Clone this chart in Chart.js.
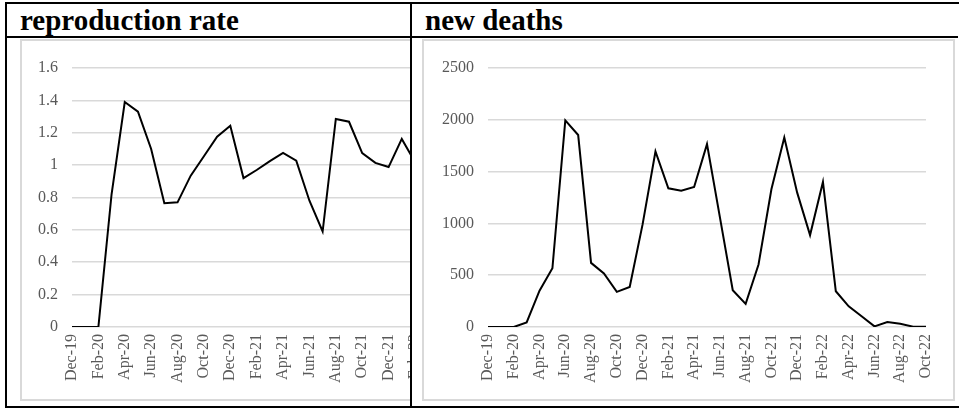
<!DOCTYPE html>
<html>
<head>
<meta charset="utf-8">
<script src="https://cdn.jsdelivr.net/npm/chart.js@4.4.0/dist/chart.umd.min.js"></script>
<style>
  html, body { margin: 0; padding: 0; background: #fff; }
  body { width: 959px; height: 410px; position: relative; overflow: hidden; }
  .ln { position: absolute; background: #000; }
  .title { position: absolute; top: 6px; font-family: "Liberation Serif", "Times New Roman", serif; font-weight: bold; font-size: 29px; line-height: 29px; color: #000; white-space: nowrap; }
  .clip { position: absolute; overflow: hidden; }
  .frame { position: absolute; border: 2px solid #d9d9d9; background: #fff; }
  canvas { display: block; }
</style>
</head>
<body>
  <div class="title" style="left:20px;">reproduction rate</div>
  <div class="title" style="left:425px;">new deaths</div>

  <div class="clip" style="left:7px; top:38px; width:403px; height:368px;">
    <div class="frame" style="left:13px; top:1px; width:526px; height:358px;">
      <canvas id="c1" width="526" height="358"></canvas>
    </div>
  </div>
  <div class="frame" style="left:422px; top:39px; width:529px; height:358px;">
    <canvas id="c2" width="529" height="358"></canvas>
  </div>

  <div class="ln" style="left:5px; top:2px; width:954px; height:2px;"></div>
  <div class="ln" style="left:5px; top:36px; width:953px; height:2px;"></div>
  <div class="ln" style="left:5px; top:406px; width:954px; height:2px;"></div>
  <div class="ln" style="left:5px; top:2px; width:2px; height:406px;"></div>
  <div class="ln" style="left:410px; top:2px; width:2px; height:406px;"></div>

<script>
const months = ["Dec-19","Jan-20","Feb-20","Mar-20","Apr-20","May-20","Jun-20","Jul-20","Aug-20","Sep-20","Oct-20","Nov-20",
  "Dec-20","Jan-21","Feb-21","Mar-21","Apr-21","May-21","Jun-21","Jul-21","Aug-21","Sep-21","Oct-21","Nov-21",
  "Dec-21","Jan-22","Feb-22","Mar-22","Apr-22","May-22","Jun-22","Jul-22","Aug-22","Sep-22","Oct-22"];

// reproduction rate (values after Feb-22 are hidden by the cell clip in the reference)
const reproductionRate = [0, 0, 0, 0.82, 1.39, 1.33, 1.10, 0.765, 0.77, 0.935, 1.055, 1.175,
  1.243, 0.92, 0.97, 1.025, 1.076, 1.028, 0.78, 0.59, 1.285, 1.268, 1.074, 1.014,
  0.988, 1.162, 1.02, null, null, null, null, null, null, null, null];

const newDeaths = [0, 0, 0, 45, 350, 567, 1995, 1853, 619, 516, 339, 387,
  990, 1694, 1339, 1316, 1352, 1765, 1060, 355, 223, 603, 1329, 1829,
  1297, 887, 1400, 345, 200, 103, 6, 48, 32, 3, 3];

const reproTicks = { min: 0, max: 1.6, step: 0.2 };
const deathTicks = { min: 0, max: 2500, step: 500 };

const tickFont = { family: "'Liberation Serif', 'Times New Roman', serif", size: 16 };
const tickColor = "#595959";
const gridColor = "#d9d9d9";

function makeChart(id, data, yt, yWidth, padRight) {
  return new Chart(document.getElementById(id), {
    type: 'line',
    data: {
      labels: months,
      datasets: [{
        data: data,
        borderColor: '#000',
        borderWidth: 2,
        pointRadius: 0,
        tension: 0,
        spanGaps: false,
        fill: false
      }]
    },
    options: {
      responsive: false,
      animation: false,
      events: [],
      plugins: { legend: { display: false }, tooltip: { enabled: false }, title: { display: false } },
      layout: { padding: { left: 0, top: 27, right: padRight, bottom: 0 } },
      scales: {
        x: {
          offset: false,
          grid: { display: false, drawTicks: false },
          border: { display: false },
          afterFit: (s) => { s.height = 72; },
          ticks: {
            autoSkip: false,
            minRotation: 90,
            maxRotation: 90,
            padding: 7,
            color: tickColor,
            font: tickFont,
            callback: function(v, i) { return i % 2 === 0 ? months[i] : ''; }
          }
        },
        y: {
          min: yt.min,
          max: yt.max,
          grid: { color: gridColor, lineWidth: 1.6, drawTicks: false },
          border: { display: false },
          afterFit: (s) => { s.width = yWidth; },
          ticks: {
            stepSize: yt.step,
            padding: 14,
            color: tickColor,
            font: tickFont,
            callback: function(v) { return String(Math.round(v * 10) / 10); }
          }
        }
      }
    }
  });
}

makeChart('c1', reproductionRate, reproTicks, 50, 27.5);
makeChart('c2', newDeaths, deathTicks, 64, 27);
</script>
</body>
</html>
